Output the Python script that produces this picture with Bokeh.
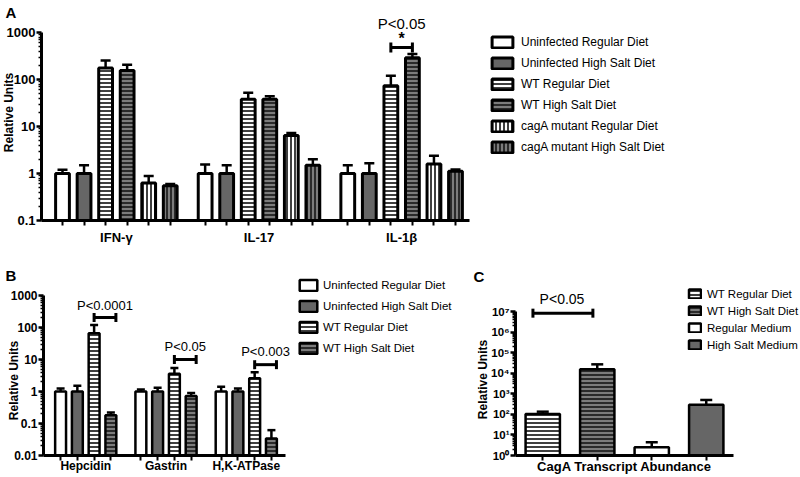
import math
from bokeh.plotting import figure
from bokeh.models import (Range1d, FixedTicker, ColumnDataSource, Whisker, TeeHead,
                          Label, Legend, LegendItem)
from bokeh.layouts import column, row
from bokeh.embed import file_html
from bokeh.resources import INLINE

# ---------------- data ----------------
A_CATEGORIES = ["IFN-γ", "IL-17", "IL-1β"]
A_SERIES = ["Uninfected Regular Diet", "Uninfected High Salt Diet", "WT Regular Diet",
            "WT High Salt Diet", "cagA mutant Regular Diet", "cagA mutant High Salt Diet"]
A_UNINF_REG = [1.0, 1.0, 1.0]
A_UNINF_REG_ERR = [1.2, 1.55, 1.5]
A_UNINF_HS = [1.0, 1.0, 1.0]
A_UNINF_HS_ERR = [1.5, 1.5, 1.65]
A_WT_REG = [175, 38, 74]
A_WT_REG_ERR = [255, 52, 120]
A_WT_HS = [155, 38, 290]
A_WT_HS_ERR = [205, 44, 350]
A_CAG_REG = [0.63, 6.4, 1.6]
A_CAG_REG_ERR = [0.88, 7.3, 2.4]
A_CAG_HS = [0.55, 1.5, 1.12]
A_CAG_HS_ERR = [0.6, 2.0, 1.22]
A_SIG_LABEL = "P<0.05"
A_SIG_STAR = "*"
A_SIG_Y = 480
A_YTICKS = [0.1, 1, 10, 100, 1000]
A_YTICK_LABELS = ["0.1", "1", "10", "100", "1000"]

B_CATEGORIES = ["Hepcidin", "Gastrin", "H,K-ATPase"]
B_SERIES = ["Uninfected Regular Diet", "Uninfected High Salt Diet", "WT Regular Diet",
            "WT High Salt Diet"]
B_UNINF_REG = [1.0, 1.0, 1.0]
B_UNINF_REG_ERR = [1.25, 1.15, 1.4]
B_UNINF_HS = [1.0, 1.0, 1.0]
B_UNINF_HS_ERR = [1.5, 1.3, 1.25]
B_WT_REG = [66, 3.6, 2.6]
B_WT_REG_ERR = [120, 5.4, 4.0]
B_WT_HS = [0.18, 0.72, 0.034]
B_WT_HS_ERR = [0.22, 0.9, 0.062]
B_SIG_LABELS = ["P<0.0001", "P<0.05", "P<0.003"]
B_SIG_Y = [205, 10, 6.9]
B_YTICKS = [0.01, 0.1, 1, 10, 100, 1000]
B_YTICK_LABELS = ["0.01", "0.1", "1", "10", "100", "1000"]

C_CATEGORY = "CagA Transcript Abundance"
C_SERIES = ["WT Regular Diet", "WT High Salt Diet", "Regular Medium", "High Salt Medium"]
C_VALUES = [105, 15500, 2.5, 290]
C_ERR = [135, 27000, 4.4, 500]
C_SIG_LABEL = "P<0.05"
C_SIG_Y = 8.3e6
C_YTICKS = [1, 10, 100, 1e3, 1e4, 1e5, 1e6, 1e7]
C_YTICK_LABELS = ["10⁰", "10¹", "10²", "10³", "10⁴", "10⁵", "10⁶", "10⁷"]

# ---------------- styles ----------------
FONT = "Liberation Sans"
STYLE = {
    "Uninfected Regular Diet": dict(fill_color="white"),
    "Uninfected High Salt Diet": dict(fill_color="#666666"),
    "WT Regular Diet": dict(fill_color="white", hatch_pattern="horizontal_line",
                            hatch_color="black", hatch_scale=4, hatch_weight=1.5),
    "WT High Salt Diet": dict(fill_color="#7c7c7c", hatch_pattern="horizontal_line",
                              hatch_color="#2a2a2a", hatch_scale=4, hatch_weight=2),
    "cagA mutant Regular Diet": dict(fill_color="white", hatch_pattern="vertical_line",
                                     hatch_color="black", hatch_scale=4, hatch_weight=1.5),
    "cagA mutant High Salt Diet": dict(fill_color="#7c7c7c", hatch_pattern="vertical_line",
                                       hatch_color="#2a2a2a", hatch_scale=4, hatch_weight=2),
    "Regular Medium": dict(fill_color="white"),
    "High Salt Medium": dict(fill_color="#666666"),
}


def minor_log(lo_exp, hi_exp):
    return [m * 10.0 ** k for k in range(lo_exp, hi_exp) for m in range(2, 10)]


class Panel:
    """A figure whose frame is the whole canvas; the axes sit at fixed locations."""

    def __init__(self, W, H, FL, FT, FW, FH, x0, x1, yticks):
        self.W, self.H, self.FL, self.FT, self.FW, self.FH = W, H, FL, FT, FW, FH
        self.x0, self.x1 = x0, x1
        self.y0, self.y1 = yticks[0], yticks[-1]
        self.lo, self.hi = math.log10(self.y0), math.log10(self.y1)
        xr = Range1d(self.px_x(0), self.px_x(W))
        yr = Range1d(self.px_y(H), self.px_y(0))
        p = figure(width=W, height=H, x_range=xr, y_range=yr, y_axis_type="log",
                   output_backend="svg", toolbar_location=None, title=None,
                   min_border_left=0, min_border_right=0, min_border_top=0, min_border_bottom=0)
        p.outline_line_color = None
        p.grid.visible = False
        p.background_fill_color = "white"
        p.border_fill_color = "white"
        self.p = p

    def px_x(self, cx):
        return self.x0 + (cx - self.FL) * (self.x1 - self.x0) / self.FW

    def px_y(self, cy):
        return 10 ** (self.hi - (cy - self.FT) * (self.hi - self.lo) / self.FH)

    def y_px(self, v):
        return self.FT + (self.hi - math.log10(v)) * self.FH / (self.hi - self.lo)


def style_axes(P, yticks, ylabels, yminor, ylab_size, xticks, xlabels, xminor, xlab_size, xstandoff):
    p = P.p
    ya = p.yaxis[0]
    ya.fixed_location = P.x0
    ya.bounds = (P.y0, P.y1)
    ya.ticker = FixedTicker(ticks=yticks, minor_ticks=yminor)
    ya.major_label_overrides = dict(zip(yticks, ylabels))
    ya.axis_line_width = 3
    ya.major_tick_line_width = 2.5
    ya.major_tick_out = 5
    ya.major_tick_in = 0
    ya.minor_tick_line_width = 1.5
    ya.minor_tick_out = 3
    ya.minor_tick_in = 0
    ya.major_label_standoff = 1
    ya.major_label_text_font = FONT
    ya.major_label_text_font_style = "bold"
    ya.major_label_text_font_size = ylab_size
    ya.major_label_text_color = "black"

    xa = p.xaxis[0]
    xa.fixed_location = P.y0
    xa.bounds = (P.x0, P.x1)
    xa.ticker = FixedTicker(ticks=xticks, minor_ticks=xminor)
    xa.major_label_overrides = dict(zip(xticks, xlabels))
    xa.axis_line_width = 3
    xa.major_tick_out = 0
    xa.major_tick_in = 0
    xa.minor_tick_out = 5
    xa.minor_tick_in = 0
    xa.minor_tick_line_width = 2
    xa.major_label_standoff = xstandoff
    xa.major_label_text_font = FONT
    xa.major_label_text_font_style = "bold"
    xa.major_label_text_font_size = xlab_size
    xa.major_label_text_color = "black"


def add_bars(P, xs, vals, errs, name, width, lw=3, cap=10):
    p = P.p
    src = ColumnDataSource(dict(x=xs, top=vals, err=errs))
    r = p.vbar(x="x", top="top", bottom=P.y0, width=width, source=src,
               line_color="black", line_width=lw, **STYLE[name])
    p.add_layout(Whisker(source=src, base="x", lower="top", upper="err", dimension="height",
                         line_width=2.5, line_color="black", lower_head=None,
                         upper_head=TeeHead(size=cap, line_width=2.5, line_color="black")))
    return r


def add_bracket(P, x0, x1, y, size=9):
    src = ColumnDataSource(dict(y=[y], x0=[x0], x1=[x1]))
    P.p.add_layout(Whisker(source=src, base="y", lower="x0", upper="x1", dimension="width",
                           line_width=3, line_color="black",
                           lower_head=TeeHead(size=size, line_width=3, line_color="black"),
                           upper_head=TeeHead(size=size, line_width=3, line_color="black")))


def text(P, x, y, s, size, bold=False, align="center", baseline="middle", angle=0.0):
    P.p.add_layout(Label(x=x, y=y, text=s, text_font=FONT, text_font_size=size,
                         text_font_style="bold" if bold else "normal", text_align=align,
                         text_baseline=baseline, angle=angle, text_color="black"))


def make_legend(P, renderers, labels, left_px, top_px, gw, gh, lh, spacing, font_size, standoff):
    n = len(labels)
    height = n * max(gh, lh) + (n - 1) * spacing
    items = [LegendItem(label=l, renderers=[r]) for l, r in zip(labels, renderers)]
    lg = Legend(items=items, location=(left_px, P.H - (top_px + height)), orientation="vertical",
                glyph_width=gw, glyph_height=gh, label_height=lh, label_width=10,
                spacing=spacing, padding=0, margin=0, border_line_color=None,
                background_fill_alpha=0, label_text_font=FONT, label_text_font_size=font_size,
                label_standoff=standoff, label_text_color="black")
    P.p.add_layout(lg)


# ================= Panel A =================
A_GROUP_STEP = 6.62
A_BAR_W = 0.64
PA = Panel(800, 248, 41, 32, 428, 188, -0.975, 2 * A_GROUP_STEP + 5 + 0.65, A_YTICKS)

a_vals = [A_UNINF_REG, A_UNINF_HS, A_WT_REG, A_WT_HS, A_CAG_REG, A_CAG_HS]
a_errs = [A_UNINF_REG_ERR, A_UNINF_HS_ERR, A_WT_REG_ERR, A_WT_HS_ERR, A_CAG_REG_ERR, A_CAG_HS_ERR]
a_rends, a_barx = [], []
for j, name in enumerate(A_SERIES):
    xs = [g * A_GROUP_STEP + j for g in range(len(A_CATEGORIES))]
    a_barx += xs
    a_rends.append(add_bars(PA, xs, a_vals[j], a_errs[j], name, A_BAR_W, cap=10))
a_centers = [g * A_GROUP_STEP + 2.5 for g in range(len(A_CATEGORIES))]
style_axes(PA, A_YTICKS, A_YTICK_LABELS, minor_log(-1, 3), "13px",
           a_centers, A_CATEGORIES, a_barx, "13px", 4)

ax2 = 2 * A_GROUP_STEP + 2
ax3 = 2 * A_GROUP_STEP + 3
add_bracket(PA, ax2, ax3, A_SIG_Y, size=10)
sig_px = PA.y_px(A_SIG_Y)
text(PA, (ax2 + ax3) / 2, PA.px_y(sig_px - 9), A_SIG_STAR, "16px", bold=True)
text(PA, (ax2 + ax3) / 2, PA.px_y(sig_px - 24), A_SIG_LABEL, "15px")
text(PA, PA.px_x(5), PA.px_y(3), "A", "15px", bold=True, align="left", baseline="top")
text(PA, PA.px_x(8), PA.px_y(112), "Relative Units", "12px", bold=True, angle=math.pi / 2)
make_legend(PA, a_rends, A_SERIES, 489, 35, 26, 14, 14, 7, "12px", 6)

# ================= Panel B =================
B_GROUP_STEP = 4.79
B_BAR_W = 0.65
PB = Panel(460, 229, 43, 47, 242, 160, -1.02, 2 * B_GROUP_STEP + 3 + 0.84, B_YTICKS)

b_vals = [B_UNINF_REG, B_UNINF_HS, B_WT_REG, B_WT_HS]
b_errs = [B_UNINF_REG_ERR, B_UNINF_HS_ERR, B_WT_REG_ERR, B_WT_HS_ERR]
b_rends, b_barx = [], []
for j, name in enumerate(B_SERIES):
    xs = [g * B_GROUP_STEP + j for g in range(len(B_CATEGORIES))]
    b_barx += xs
    b_rends.append(add_bars(PB, xs, b_vals[j], b_errs[j], name, B_BAR_W, lw=2.5, cap=8))
b_centers = [g * B_GROUP_STEP + 1.5 for g in range(len(B_CATEGORIES))]
style_axes(PB, B_YTICKS, B_YTICK_LABELS, minor_log(-2, 3), "12px",
           b_centers, B_CATEGORIES, b_barx, "12px", -2)

b_text_dy = [12, 13, 13]
for g, (lab, yv) in enumerate(zip(B_SIG_LABELS, B_SIG_Y)):
    x2 = g * B_GROUP_STEP + 2
    x3 = g * B_GROUP_STEP + 3 + 0.3
    add_bracket(PB, x2, x3, yv, size=9)
    text(PB, (x2 + x3) / 2, PB.px_y(PB.y_px(yv) - b_text_dy[g]), lab, "13px")
text(PB, PB.px_x(5), PB.px_y(18), "B", "15px", bold=True, align="left", baseline="top")
text(PB, PB.px_x(13), PB.px_y(132), "Relative Units", "12px", bold=True, angle=math.pi / 2)
make_legend(PB, b_rends, B_SERIES, 297, 30, 22, 14, 14, 7, "11.5px", 4)

# ================= Panel C =================
C_BAR_W = 0.63
PC = Panel(340, 229, 55, 63, 218, 144, 0.5, 4.5, C_YTICKS)

c_rends, c_barx = [], []
for j, name in enumerate(C_SERIES):
    xs = [j + 1]
    c_barx += xs
    c_rends.append(add_bars(PC, xs, [C_VALUES[j]], [C_ERR[j]], name, C_BAR_W, lw=2.5, cap=12))
style_axes(PC, C_YTICKS, C_YTICK_LABELS, minor_log(0, 7), "11.5px",
           [2.5], [C_CATEGORY], c_barx, "13px", -2)
add_bracket(PC, 1 - 0.18, 2 - 0.08, C_SIG_Y, size=9)
text(PC, PC.px_x(101.5), PC.px_y(50), C_SIG_LABEL, "14px")
text(PC, PC.px_x(13), PC.px_y(19), "C", "15px", bold=True, align="left", baseline="top")
text(PC, PC.px_x(22), PC.px_y(131), "Relative Units", "12px", bold=True, angle=math.pi / 2)
make_legend(PC, c_rends, C_SERIES, 227, 39, 15, 11, 13, 4, "11.5px", 5)

layout = column(PA.p, row(PB.p, PC.p))
open("out.html", "w").write(file_html(layout, INLINE))
